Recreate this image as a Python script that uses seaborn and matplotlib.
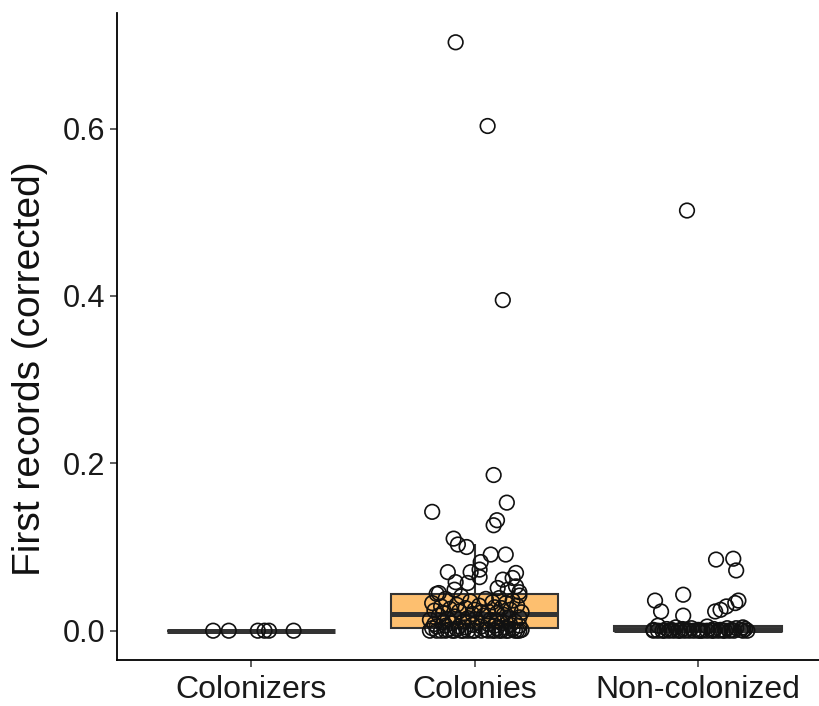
import numpy as np
import pandas as pd
import seaborn as sns
import matplotlib.pyplot as plt

groups = ['Colonizers', 'Colonies', 'Non-colonized']

# values, with the horizontal jitter of each point
colonizers_vals = [0, 0, 0, 0, 0, 0]
colonizers_jit = [-0.17, -0.10, 0.03, 0.06, 0.08, 0.19]

colonies_vals = [0.703, 0.603, 0.395, 0.186, 0.153, 0.142, 0.132, 0.126, 0.110, 0.103,
                 0.100, 0.091, 0.091, 0.082, 0.073, 0.070, 0.070, 0.069, 0.064, 0.063,
                 0.061, 0.058, 0.057, 0.053, 0.051, 0.049, 0.049, 0.046, 0.045,
                 0.044, 0.042, 0.041, 0.039, 0.038, 0.038, 0.036, 0.035, 0.034, 0.033,
                 0.033, 0.031, 0.030, 0.030, 0.029, 0.028, 0.027, 0.027, 0.026, 0.025,
                 0.025, 0.024, 0.023, 0.023, 0.022, 0.022, 0.021, 0.021, 0.020,
                 0.019, 0.018, 0.018, 0.017, 0.016, 0.015, 0.015, 0.014, 0.013, 0.013,
                 0.012, 0.011, 0.011, 0.010, 0.010, 0.009, 0.009, 0.008, 0.008, 0.007,
                 0.007, 0.006, 0.006, 0.006, 0.005, 0.005, 0.005, 0.004, 0.004,
                 0.003, 0.003, 0.002, 0.002, 0.001, 0.001, 0.001, 0, 0, 0,
                 0, 0, 0, 0, 0, 0, 0, 0, 0, 0,
                 0, 0, 0, 0, 0, 0, 0, 0, 0]
colonies_jit = [-0.085, 0.058, 0.126, 0.085, 0.144, -0.19, 0.10, 0.085, -0.094, -0.075,
                -0.036, 0.072, 0.139, 0.027, 0.022, -0.12, -0.018, 0.185, 0.022, 0.17,
                0.126, -0.085, -0.031, 0.185, 0.103, -0.09, 0.148, 0.20, -0.16,
                -0.17, 0.20, -0.06, 0.11, -0.13, 0.05, 0.17, -0.02, 0.08, -0.19,
                0.14, -0.08, 0.02, 0.19, -0.15, 0.09, -0.04, 0.12, -0.11, 0.0,
                0.16, -0.18, 0.06, -0.07, 0.21, 0.03, -0.14, 0.10, -0.01,
                0.13, -0.16, 0.04, -0.09, 0.20, -0.03, 0.15, -0.12, 0.07, -0.20,
                0.10, -0.05, 0.18, -0.14, 0.01, 0.12, -0.10, 0.06, -0.18, 0.16,
                -0.01, 0.09, -0.13, 0.20, -0.07, 0.03, -0.17, 0.14, -0.04,
                -0.19, 0.10, -0.08, 0.17, -0.12, 0.05, 0.21, -0.15, 0.0,
                0.12, -0.06, 0.19, -0.20, 0.08, -0.10, 0.15, -0.03, 0.06, -0.17,
                0.11, -0.01, 0.20, -0.13, 0.03, 0.14, -0.09, 0.18, -0.05, 0.09]

noncol_vals = [0.502, 0.086, 0.085, 0.072, 0.043, 0.036, 0.036, 0.033, 0.029, 0.025,
               0.023, 0.023, 0.018,
               0.006, 0.005, 0.004, 0.004, 0.003, 0.003, 0.003, 0.002, 0.002, 0.002,
               0.002, 0.001, 0.001, 0.001, 0.001, 0.001, 0.001, 0.001,
               0, 0, 0, 0, 0, 0, 0, 0, 0, 0, 0, 0,
               0, 0, 0, 0, 0, 0, 0, 0, 0, 0, 0, 0]
noncol_jit = [-0.05, 0.157, 0.08, 0.17, -0.067, -0.193, 0.18, 0.166, 0.126, 0.10,
              0.076, -0.166, -0.067,
              -0.18, 0.04, 0.20, -0.10, 0.13, -0.03, 0.17, -0.14, 0.07, -0.07,
              0.21, -0.20, 0.10, -0.05, 0.15, -0.12, 0.0, 0.19,
              -0.20, -0.16, -0.13, -0.11, -0.08, -0.06, -0.04, -0.02, 0.0, 0.02, 0.04, 0.06,
              0.09, 0.11, 0.14, 0.16, 0.20, 0.22, -0.18, -0.09, 0.01, 0.12, 0.07, -0.15]

box_colors = ['#3a3a3a', '#FDBF6F', '#3a3a3a']

df = pd.DataFrame({
    'group': ['Colonizers'] * len(colonizers_vals) + ['Colonies'] * len(colonies_vals)
             + ['Non-colonized'] * len(noncol_vals),
    'value': colonizers_vals + colonies_vals + noncol_vals,
    'jitter': colonizers_jit + colonies_jit + noncol_jit,
})
df['xpos'] = df['group'].map({g: i for i, g in enumerate(groups)}) + df['jitter']

sns.set_style('white')
plt.rcParams['font.family'] = ['Liberation Sans', 'DejaVu Sans']

fig = plt.figure(figsize=(8.2, 7.06), dpi=100)
ax = fig.add_axes([117 / 820, 46 / 706, 703 / 820, 647 / 706])

line_col = '#333333'
sns.boxplot(data=df, x='group', y='value', order=groups, hue='group', hue_order=groups,
            palette=box_colors, saturation=1, legend=False, width=0.75,
            showfliers=False, showcaps=False,
            linewidth=1.5, linecolor=line_col,
            medianprops={'linewidth': 3.6, 'color': line_col},
            ax=ax)
ax.scatter(df['xpos'], df['value'], s=110, facecolors='none', edgecolors='#111111',
           linewidths=1.2, zorder=5)

ax.set_xlim(-0.6, 2.545)
ax.set_ylim(-0.035, 0.738)
ax.set_yticks([0.0, 0.2, 0.4, 0.6])
ax.set_yticklabels(['0.0', '0.2', '0.4', '0.6'])
ax.set_xlabel('')
ax.set_ylabel('First records (corrected)', fontsize=28, color='#111111')
ax.yaxis.set_label_coords(-0.098, 0.45)

for side in ['top', 'right']:
    ax.spines[side].set_visible(False)
for side in ['left', 'bottom']:
    ax.spines[side].set_color('black')
    ax.spines[side].set_linewidth(1.3)
ax.tick_params(axis='both', which='both', direction='out', length=5, width=1.1,
               color='#333333', labelsize=22, labelcolor='#1a1a1a', left=True, bottom=True)
ax.tick_params(axis='x', labelsize=23, pad=6)
ax.grid(False)

fig.savefig('out.png', dpi=100)
